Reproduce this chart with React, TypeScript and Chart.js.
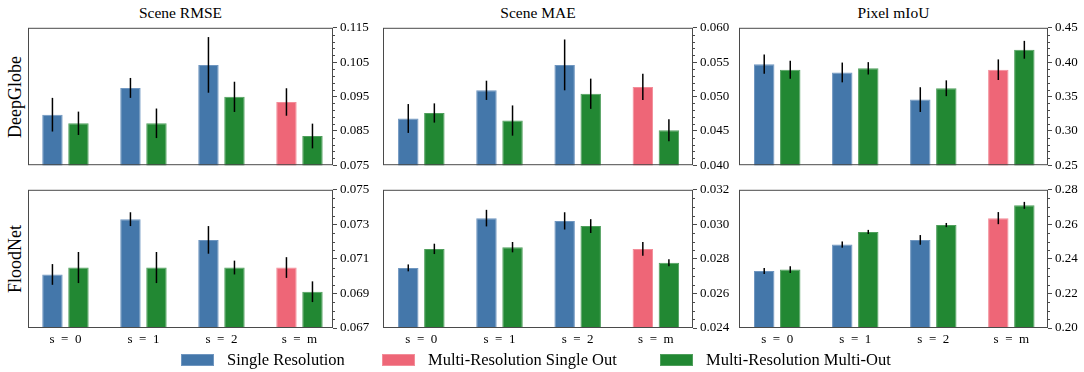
import React, { useEffect, useRef } from 'react';
import { Chart, registerables } from 'chart.js';

Chart.register(...registerables);

// ---- shared labels ----
const groupLabels = ['s\u2002=\u20020', 's\u2002=\u20021', 's\u2002=\u20022', 's\u2002=\u2002m'];
const groupPositions = [0, 1, 2, 3];
const seriesNames = ['Single Resolution', 'Multi-Resolution Single Out', 'Multi-Resolution Multi-Out'];
const seriesColors = ['#4477AA', '#EE6677', '#228833'];
const seriesEdges = ['#6f96c0', '#f38d99', '#4f9f5c'];
const columnTitles = ['Scene RMSE', 'Scene MAE', 'Pixel mIoU'];
const rowTitles = ['DeepGlobe', 'FloodNet'];

// ---- DeepGlobe: Scene RMSE ----
const rmseDgSingle = [0.0897, 0.0975, 0.1042, null];
const rmseDgSingleErr = [0.0049, 0.0029, 0.0081, null];
const rmseDgMultiSingle = [null, null, null, 0.0934];
const rmseDgMultiSingleErr = [null, null, null, 0.004];
const rmseDgMultiOut = [0.0872, 0.0872, 0.0949, 0.0835];
const rmseDgMultiOutErr = [0.0034, 0.0043, 0.0044, 0.0036];
const rmseDgTicks = [0.075, 0.085, 0.095, 0.105, 0.115];

// ---- DeepGlobe: Scene MAE ----
const maeDgSingle = [0.0468, 0.0509, 0.0546, null];
const maeDgSingleErr = [0.0021, 0.0014, 0.0037, null];
const maeDgMultiSingle = [null, null, null, 0.0514];
const maeDgMultiSingleErr = [null, null, null, 0.0019];
const maeDgMultiOut = [0.0476, 0.0465, 0.0504, 0.0451];
const maeDgMultiOutErr = [0.0014, 0.0022, 0.0022, 0.0016];
const maeDgTicks = [0.04, 0.045, 0.05, 0.055, 0.06];

// ---- DeepGlobe: Pixel mIoU ----
const miouDgSingle = [0.397, 0.385, 0.3455, null];
const miouDgSingleErr = [0.014, 0.0144, 0.018, null];
const miouDgMultiSingle = [null, null, null, 0.389];
const miouDgMultiSingleErr = [null, null, null, 0.015];
const miouDgMultiOut = [0.389, 0.391, 0.362, 0.418];
const miouDgMultiOutErr = [0.013, 0.009, 0.0115, 0.013];
const miouDgTicks = [0.25, 0.3, 0.35, 0.4, 0.45];

// ---- FloodNet: Scene RMSE ----
const rmseFnSingle = [0.0701, 0.0733, 0.0721, null];
const rmseFnSingleErr = [0.0006, 0.0004, 0.0008, null];
const rmseFnMultiSingle = [null, null, null, 0.0705];
const rmseFnMultiSingleErr = [null, null, null, 0.0006];
const rmseFnMultiOut = [0.0705, 0.0705, 0.0705, 0.0691];
const rmseFnMultiOutErr = [0.0009, 0.0009, 0.0004, 0.0006];
const rmseFnTicks = [0.067, 0.069, 0.071, 0.073, 0.075];

// ---- FloodNet: Scene MAE ----
const maeFnSingle = [0.02748, 0.03036, 0.0302, null];
const maeFnSingleErr = [0.0002, 0.00048, 0.0005, null];
const maeFnMultiSingle = [null, null, null, 0.02858];
const maeFnMultiSingleErr = [null, null, null, 0.0004];
const maeFnMultiOut = [0.02858, 0.02868, 0.0299, 0.02778];
const maeFnMultiOutErr = [0.0003, 0.0003, 0.0004, 0.0002];
const maeFnTicks = [0.024, 0.026, 0.028, 0.03, 0.032];

// ---- FloodNet: Pixel mIoU ----
const miouFnSingle = [0.233, 0.2483, 0.251, null];
const miouFnSingleErr = [0.0018, 0.0018, 0.0028, null];
const miouFnMultiSingle = [null, null, null, 0.2636];
const miouFnMultiSingleErr = [null, null, null, 0.0035];
const miouFnMultiOut = [0.2338, 0.2556, 0.2596, 0.271];
const miouFnMultiOutErr = [0.002, 0.0012, 0.0012, 0.002];
const miouFnTicks = [0.2, 0.22, 0.24, 0.26, 0.28];

// ---- layout ----
const FONT = "'Liberation Serif', 'DejaVu Serif', serif";
const colLeft = [28, 383, 739];
const colWidth = [305, 310, 309];
const rowTop = [27, 189];
const rowHeight = [139, 139];
const xLimits = [
  [-0.48, 3.43],
  [-0.49, 3.475],
  [-0.49, 3.47],
];

type Vals = (number | null)[];
type Panel = {
  row: number;
  col: number;
  series: Vals[];
  errors: Vals[];
  ticks: number[];
  minorDiv: number;
  digits: number;
};

const panels: Panel[] = [
  { row: 0, col: 0, series: [rmseDgSingle, rmseDgMultiSingle, rmseDgMultiOut], errors: [rmseDgSingleErr, rmseDgMultiSingleErr, rmseDgMultiOutErr], ticks: rmseDgTicks, minorDiv: 5, digits: 3 },
  { row: 0, col: 1, series: [maeDgSingle, maeDgMultiSingle, maeDgMultiOut], errors: [maeDgSingleErr, maeDgMultiSingleErr, maeDgMultiOutErr], ticks: maeDgTicks, minorDiv: 5, digits: 3 },
  { row: 0, col: 2, series: [miouDgSingle, miouDgMultiSingle, miouDgMultiOut], errors: [miouDgSingleErr, miouDgMultiSingleErr, miouDgMultiOutErr], ticks: miouDgTicks, minorDiv: 5, digits: 2 },
  { row: 1, col: 0, series: [rmseFnSingle, rmseFnMultiSingle, rmseFnMultiOut], errors: [rmseFnSingleErr, rmseFnMultiSingleErr, rmseFnMultiOutErr], ticks: rmseFnTicks, minorDiv: 4, digits: 3 },
  { row: 1, col: 1, series: [maeFnSingle, maeFnMultiSingle, maeFnMultiOut], errors: [maeFnSingleErr, maeFnMultiSingleErr, maeFnMultiOutErr], ticks: maeFnTicks, minorDiv: 4, digits: 3 },
  { row: 1, col: 2, series: [miouFnSingle, miouFnMultiSingle, miouFnMultiOut], errors: [miouFnSingleErr, miouFnMultiSingleErr, miouFnMultiOutErr], ticks: miouFnTicks, minorDiv: 4, digits: 2 },
];

const PAD_L = 10;
const PAD_T = 10;
const AXIS_W = 42;
const X_AXIS_H = 22;

function PanelChart({ p }: { p: Panel }) {
  const ref = useRef<HTMLCanvasElement>(null);
  const showX = p.row === 1;
  const bottom = showX ? X_AXIS_H : 10;
  const w = PAD_L + colWidth[p.col] + AXIS_W;
  const h = PAD_T + rowHeight[p.row] + bottom;

  useEffect(() => {
    const yMin = p.ticks[0];
    const yMax = p.ticks[p.ticks.length - 1];
    const majorStep = p.ticks[1] - p.ticks[0];

    // error bars, frame and minor ticks
    const decor = {
      id: 'panelDecor',
      afterDatasetsDraw(chart: any) {
        const { ctx, chartArea } = chart;
        const ys = chart.scales.y;
        ctx.save();
        ctx.strokeStyle = '#000';
        ctx.lineWidth = 1.5;
        chart.data.datasets.forEach((ds: any, di: number) => {
          const meta = chart.getDatasetMeta(di);
          meta.data.forEach((el: any, i: number) => {
            const v = ds.data[i].y;
            const e = p.errors[di][i];
            if (v == null || e == null) return;
            ctx.beginPath();
            ctx.moveTo(el.x, ys.getPixelForValue(v + e));
            ctx.lineTo(el.x, ys.getPixelForValue(v - e));
            ctx.stroke();
          });
        });
        ctx.strokeStyle = '#4a4a4a';
        ctx.lineWidth = 1;
        ctx.strokeRect(chartArea.left + 0.5, chartArea.top + 0.5, chartArea.right - chartArea.left - 1, chartArea.bottom - chartArea.top - 1);
        const n = Math.round((yMax - yMin) / (majorStep / p.minorDiv));
        ctx.beginPath();
        for (let k = 1; k < n; k++) {
          if (k % p.minorDiv === 0) continue;
          const py = Math.round(ys.getPixelForValue(yMin + (k * majorStep) / p.minorDiv)) + 0.5;
          ctx.moveTo(chartArea.right, py);
          ctx.lineTo(chartArea.right + 2, py);
        }
        ctx.stroke();
        ctx.restore();
      },
    };

    const chart = new Chart(ref.current as HTMLCanvasElement, {
      type: 'bar',
      data: {
        datasets: p.series.map((vals, si) => ({
          label: seriesNames[si],
          data: vals.map((v, i) => ({ x: groupPositions[i], y: v })) as any,
          backgroundColor: seriesColors[si],
          borderColor: seriesEdges[si],
          borderWidth: { top: 1, left: 1, right: 1, bottom: 0 },
          skipNull: true,
          barPercentage: 0.785,
          categoryPercentage: 0.667,
        })),
      },
      options: {
        responsive: false,
        animation: false,
        devicePixelRatio: 1,
        events: [],
        layout: { padding: { left: PAD_L, top: PAD_T, right: 0, bottom: showX ? 0 : bottom } },
        plugins: { legend: { display: false }, tooltip: { enabled: false } },
        scales: {
          x: {
            type: 'linear',
            offset: false,
            min: xLimits[p.col][0],
            max: xLimits[p.col][1],
            display: showX,
            grid: { display: false, drawTicks: false },
            border: { display: false },
            afterBuildTicks: (s: any) => {
              s.ticks = groupPositions.map((v) => ({ value: v }));
            },
            afterFit: (s: any) => {
              s.height = showX ? X_AXIS_H : 0;
            },
            ticks: {
              callback: (_v: any, i: number) => groupLabels[i],
              color: '#000',
              font: { family: FONT, size: 13 },
              padding: 4,
              maxRotation: 0,
              autoSkip: false,
            },
          },
          y: {
            position: 'right',
            min: yMin,
            max: yMax,
            grid: { drawOnChartArea: false, drawTicks: true, tickLength: 4, tickColor: '#4a4a4a', tickWidth: 1 },
            border: { display: false },
            afterBuildTicks: (s: any) => {
              s.ticks = p.ticks.map((v) => ({ value: v }));
            },
            afterFit: (s: any) => {
              s.width = AXIS_W;
            },
            ticks: {
              callback: (v: any) => Number(v).toFixed(p.digits),
              color: '#000',
              font: { family: FONT, size: 13 },
              padding: 3,
              autoSkip: false,
            },
          },
        } as any,
      },
      plugins: [decor as any],
    });
    return () => chart.destroy();
  }, [p]);

  return (
    <canvas
      ref={ref}
      width={w}
      height={h}
      style={{ position: 'absolute', left: colLeft[p.col] - PAD_L, top: rowTop[p.row] - PAD_T, width: w, height: h }}
    />
  );
}

const legendPatchX = [181, 382, 660];

export default function App() {
  return (
    <div style={{ position: 'absolute', left: 0, top: 0, width: 1084, height: 372, background: '#fff', overflow: 'hidden', fontFamily: FONT, color: '#000' }}>
      {columnTitles.map((t, c) => (
        <div
          key={t}
          style={{ position: 'absolute', left: colLeft[c] + colWidth[c] / 2, top: 12.5, transform: 'translate(-50%, -50%)', fontSize: 15.5, whiteSpace: 'nowrap', lineHeight: 1 }}
        >
          {t}
        </div>
      ))}
      {rowTitles.map((t, r) => (
        <div
          key={t}
          style={{ position: 'absolute', left: 14.5, top: rowTop[r] + rowHeight[r] / 2, transform: 'translate(-50%, -50%) rotate(-90deg)', fontSize: 18, whiteSpace: 'nowrap', lineHeight: 1 }}
        >
          {t}
        </div>
      ))}
      {panels.map((p) => (
        <PanelChart key={`${p.row}-${p.col}`} p={p} />
      ))}
      {seriesNames.map((name, i) => (
        <React.Fragment key={name}>
          <div style={{ position: 'absolute', left: legendPatchX[i], top: 354, width: 33, height: 12, background: seriesColors[i], boxSizing: 'border-box', border: `1px solid ${seriesEdges[i]}` }} />
          <div style={{ position: 'absolute', left: legendPatchX[i] + 46, top: 360, transform: 'translateY(-50%)', fontSize: 16.5, whiteSpace: 'nowrap', lineHeight: 1 }}>
            {name}
          </div>
        </React.Fragment>
      ))}
    </div>
  );
}
